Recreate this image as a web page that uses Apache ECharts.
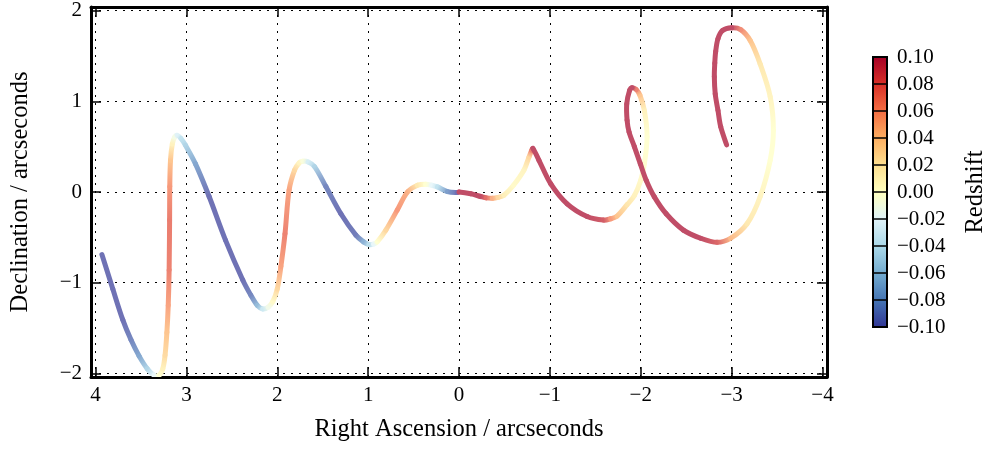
<!DOCTYPE html>
<html><head><meta charset="utf-8">
<script src="https://cdn.jsdelivr.net/npm/echarts@6/dist/echarts.min.js"></script>
<style>html,body{margin:0;padding:0;background:#fff}#c{width:989px;height:449px}</style>
</head><body><div id="c"></div>
<script>
// Right ascension (arcsec), declination (arcsec), redshift along the track
const raValues = [3.93,3.81,3.70,3.61,3.52,3.43,3.355,3.30,3.26,3.235,3.215,3.20,3.19,3.185,3.183,3.175,3.155,3.13,3.10,3.06,3.01,2.90,2.75,2.57,2.38,2.29,2.22,2.16,2.10,2.05,2.00,1.96,1.915,1.87,1.81,1.76,1.72,1.66,1.59,1.465,1.30,1.135,1.05,0.99,0.94,0.90,0.805,0.68,0.567,0.457,0.366,0.30,0.237,0.127,0.02,0.0,-0.13,-0.24,-0.30,-0.367,-0.43,-0.495,-0.60,-0.714,-0.77,-0.80,-0.813,-0.88,-1.01,-1.19,-1.41,-1.59,-1.67,-1.74,-1.85,-1.93,-2.0,-2.04,-2.07,-2.04,-1.99,-1.95,-1.905,-1.877,-1.846,-1.85,-1.872,-1.93,-1.996,-2.06,-2.15,-2.28,-2.47,-2.66,-2.84,-2.99,-3.17,-3.315,-3.425,-3.46,-3.425,-3.315,-3.205,-3.10,-3.0,-2.90,-2.85,-2.825,-2.815,-2.81,-2.82,-2.85,-2.88,-2.945];
const decValues = [-0.69,-1.07,-1.41,-1.63,-1.81,-1.95,-2.02,-2.02,-1.95,-1.80,-1.55,-1.25,-0.86,-0.31,0.06,0.35,0.53,0.605,0.625,0.59,0.515,0.31,-0.05,-0.53,-0.97,-1.14,-1.25,-1.29,-1.27,-1.21,-1.07,-0.82,-0.46,0.02,0.24,0.32,0.34,0.33,0.28,0.06,-0.24,-0.475,-0.55,-0.58,-0.575,-0.55,-0.42,-0.20,0.0,0.075,0.086,0.075,0.056,0.005,-0.005,0.0,-0.02,-0.05,-0.065,-0.07,-0.06,-0.035,0.075,0.24,0.385,0.46,0.48,0.35,0.09,-0.13,-0.27,-0.31,-0.295,-0.265,-0.14,-0.04,0.13,0.31,0.61,0.90,1.07,1.13,1.15,1.12,0.97,0.79,0.66,0.50,0.31,0.13,-0.054,-0.24,-0.42,-0.51,-0.555,-0.51,-0.35,-0.05,0.35,0.68,1.05,1.41,1.67,1.79,1.81,1.78,1.69,1.55,1.42,1.27,1.08,0.90,0.72,0.52];
const redshiftValues = [-0.10,-0.10,-0.10,-0.09,-0.075,-0.05,-0.02,0.0,0.012,0.028,0.04,0.055,0.07,0.073,0.06,0.04,0.012,-0.01,-0.025,-0.04,-0.05,-0.075,-0.10,-0.10,-0.10,-0.09,-0.065,-0.035,-0.012,0.005,0.03,0.055,0.07,0.055,0.03,0.01,-0.005,-0.03,-0.05,-0.09,-0.10,-0.095,-0.07,-0.045,-0.02,0.0,0.03,0.06,0.05,0.02,0.0,-0.02,-0.04,-0.08,-0.10,0.10,0.10,0.10,0.08,0.05,0.03,0.015,0.005,0.01,0.03,0.07,0.10,0.10,0.10,0.10,0.10,0.09,0.06,0.04,0.022,0.012,0.006,0.002,0.0,0.012,0.04,0.07,0.10,0.10,0.10,0.10,0.10,0.10,0.10,0.10,0.10,0.10,0.10,0.10,0.085,0.045,0.02,0.01,0.0,0.0,0.01,0.02,0.04,0.065,0.10,0.10,0.10,0.10,0.10,0.10,0.10,0.10,0.10,0.10];
const xTicks = [4,3,2,1,0,-1,-2,-3,-4];
const yTicks = [2,1,0,-1,-2];
const cmapColors = ['#313695','#4575b4','#74add1','#abd9e9','#e0f3f8','#ffffbf','#fee090','#fdae61','#f46d43','#d73027','#a50026'];
const zMin = -0.1, zMax = 0.1;

const points = raValues.map((x, i) => [x, decValues[i], redshiftValues[i]]);

function hexToRgb(h){return [parseInt(h.slice(1,3),16),parseInt(h.slice(3,5),16),parseInt(h.slice(5,7),16)];}
const cmapRgb = cmapColors.map(hexToRgb);
function lineColor(z){
  let t = (z - zMin) / (zMax - zMin);
  t = Math.max(0, Math.min(1, t)) * (cmapRgb.length - 1);
  const k = Math.min(cmapRgb.length - 2, Math.floor(t));
  const f = t - k;
  const c = [0,1,2].map(j => cmapRgb[k][j] * (1 - f) + cmapRgb[k + 1][j] * f);
  const a = 0.7;
  const m = c.map(v => Math.round(v * a + 255 * (1 - a)));
  return 'rgb(' + m.join(',') + ')';
}
const minus = '\u2212';
const fmtInt = v => (v < 0 ? minus + (-v) : String(v));
const fmtCbar = v => { const r = Math.round(v * 100) / 100; return (r < 0 ? minus : '') + Math.abs(r).toFixed(2); };
const FONT = 'Liberation Serif';
const tickLbl = {color:'#000', fontFamily:FONT, fontSize:21};
const nameStyle = {color:'#000', fontFamily:FONT, fontSize:24.5};

const dist = (a, b) => Math.hypot(a[0] - b[0], a[1] - b[1]);
function renderItem(params, api){
  const i = params.dataIndexInside;
  const n = params.dataInsideLength;
  if (i >= n - 1) return null;
  const P = k => { k = Math.max(0, Math.min(n - 1, k)); return api.coord([api.value(0, k), api.value(1, k)]); };
  const p0 = P(i - 1), p1 = P(i), p2 = P(i + 1), p3 = P(i + 2);
  const d01 = dist(p0, p1), d12 = dist(p1, p2), d23 = dist(p2, p3);
  const s1 = d12 / (3 * Math.max(1e-6, d01 + d12));
  const s2 = d12 / (3 * Math.max(1e-6, d12 + d23));
  const c1 = [p1[0] + (p2[0] - p0[0]) * s1, p1[1] + (p2[1] - p0[1]) * s1];
  const c2 = [p2[0] - (p3[0] - p1[0]) * s2, p2[1] - (p3[1] - p1[1]) * s2];
  const z1 = api.value(2, i), z2 = api.value(2, i + 1);
  return {
    type:'bezierCurve',
    shape:{x1:p1[0], y1:p1[1], x2:p2[0], y2:p2[1], cpx1:c1[0], cpy1:c1[1], cpx2:c2[0], cpy2:c2[1]},
    style:{fill:null, lineWidth:5, lineCap:'round',
      stroke:{type:'linear', x:p1[0], y:p1[1], x2:p2[0], y2:p2[1], global:true,
        colorStops:[{offset:0, color:lineColor(z1)}, {offset:1, color:lineColor(z2)}]}}
  };
}

const frameLine = {onZero:false, lineStyle:{color:'#000', width:3}};
const tickStyle = {inside:true, length:10, lineStyle:{color:'#000', width:1.5}};
const gridLine = {show:true, lineStyle:{color:'#000', width:1, type:[2,6]}};

const chart = echarts.init(document.getElementById('c'), null, {renderer:'canvas'});
chart.setOption({
  animation:false,
  backgroundColor:'#fff',
  grid:[
    {left:89, right:162, top:7, bottom:72, show:false},
    {left:873, top:57, width:15, height:270, show:true, borderColor:'#000', borderWidth:2, backgroundColor:'transparent', z:10}
  ],
  xAxis:[
    {gridIndex:0, type:'value', min:-4.05, max:4.05, inverse:true, position:'bottom',
     axisLine:frameLine, axisTick:Object.assign({customValues:xTicks}, tickStyle),
     axisLabel:Object.assign({customValues:xTicks, formatter:fmtInt, margin:8}, tickLbl),
     splitLine:gridLine,
     name:'Right Ascension / arcseconds', nameLocation:'middle', nameGap:40, nameTextStyle:nameStyle},
    {gridIndex:0, type:'value', min:-4.05, max:4.05, inverse:true, position:'top',
     axisLine:frameLine, axisTick:Object.assign({customValues:xTicks}, tickStyle),
     axisLabel:{show:false}, splitLine:{show:false}},
    {gridIndex:1, type:'value', min:0, max:1, show:false}
  ],
  yAxis:[
    {gridIndex:0, type:'value', min:-2.04, max:2.04, position:'left',
     axisLine:frameLine, axisTick:Object.assign({customValues:yTicks}, tickStyle),
     axisLabel:Object.assign({customValues:yTicks, formatter:fmtInt, margin:9}, tickLbl),
     splitLine:gridLine,
     name:'Declination / arcseconds', nameLocation:'middle', nameRotate:90, nameGap:58, nameTextStyle:nameStyle},
    {gridIndex:0, type:'value', min:-2.04, max:2.04, position:'right',
     axisLine:frameLine, axisTick:Object.assign({customValues:yTicks}, tickStyle),
     axisLabel:{show:false}, splitLine:{show:false}},
    {gridIndex:1, type:'value', min:-0.1, max:0.1, interval:0.02, position:'right', z:10,
     axisLine:{show:false}, axisTick:{show:false},
     axisLabel:Object.assign({formatter:fmtCbar, margin:10}, tickLbl),
     splitLine:{show:true, lineStyle:{color:'#000', width:1.5}},
     name:'Redshift', nameLocation:'middle', nameRotate:90, nameGap:76, nameTextStyle:nameStyle}
  ],
  visualMap:{type:'continuous', min:zMin, max:zMax, dimension:2, seriesIndex:0,
    inRange:{color:cmapColors}, orient:'vertical', itemWidth:15, itemHeight:270,
    left:873, top:57, padding:0, calculable:false, hoverLink:false, text:null, z:4},
  series:[{
    type:'custom', xAxisIndex:0, yAxisIndex:0, data:points, renderItem:renderItem, clip:true, z:3
  }]
});
</script></body></html>
